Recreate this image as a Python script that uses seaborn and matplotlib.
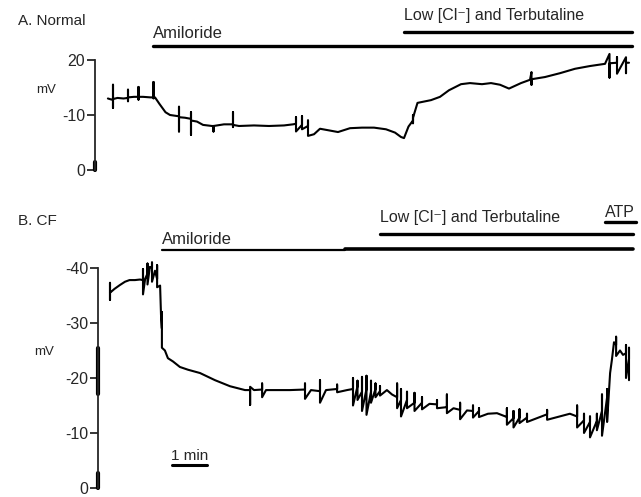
import matplotlib
matplotlib.use("Agg")
import matplotlib.pyplot as plt
import pandas as pd
import seaborn as sns

# ---- A. Normal: transepithelial potential trace (time in min, mV) ----
normal_t = [0.43, 0.55, 0.60, 0.60, 0.60, 0.60, 0.75, 0.95, 1.10, 1.10, 1.10, 1.10,
            1.30, 1.45, 1.45, 1.45, 1.45, 1.60, 1.85, 1.95, 1.95, 1.95, 2.00, 2.15,
            2.35, 2.50, 2.75, 2.80, 2.80, 2.80, 2.80, 3.00, 3.20, 3.20, 3.20, 3.20,
            3.40, 3.60, 3.90, 3.95, 3.95, 3.95, 4.30, 4.60, 4.60, 4.60, 4.60, 4.80,
            5.30, 5.80, 6.30, 6.60, 6.70, 6.70, 6.70, 6.90, 6.90, 6.90, 7.10, 7.10,
            7.10, 7.30, 7.50, 7.80, 8.10, 8.50, 8.90, 9.30, 9.70, 10.00, 10.20, 10.30,
            10.45, 10.60, 10.60, 10.60, 10.60, 10.75, 11.20, 11.50, 11.80, 12.20, 12.50, 12.90,
            13.20, 13.50, 13.80, 14.20, 14.50, 14.55, 14.55, 14.55, 15.00, 15.50, 16.00, 16.50,
            17.00, 17.15, 17.15, 17.15, 17.40, 17.40, 17.40, 17.70, 17.70, 17.70, 17.80]
normal_mv = [13.0, 12.8, 12.9, 15.5, 11.3, 12.9, 13.1, 13.0, 13.1, 14.6, 12.5, 13.2,
             13.3, 13.3, 15.1, 12.8, 13.3, 13.3, 13.2, 13.2, 16.0, 13.0, 13.2, 12.0,
             10.5, 10.0, 9.8, 9.8, 11.5, 7.0, 9.6, 9.5, 9.3, 10.5, 6.4, 9.0,
             8.8, 8.2, 8.0, 8.0, 7.0, 8.0, 8.3, 8.3, 10.5, 7.8, 8.2, 8.0,
             8.1, 8.0, 8.1, 8.3, 8.4, 9.6, 7.0, 8.2, 9.8, 7.4, 8.0, 9.0,
             6.2, 6.5, 7.5, 7.2, 6.9, 7.6, 7.7, 7.7, 7.4, 6.8, 6.0, 5.8,
             7.9, 9.0, 10.0, 8.5, 9.5, 12.2, 12.7, 13.3, 14.5, 15.6, 15.8, 15.6,
             15.8, 15.5, 14.8, 15.8, 16.4, 17.8, 15.5, 16.5, 16.9, 17.6, 18.4, 18.9,
             19.3, 21.1, 16.8, 19.4, 19.5, 20.5, 17.5, 20.5, 17.6, 19.5, 19.5]

# ---- B. CF trace ----
cf_t = [0.40, 0.40, 0.40, 0.40, 0.55, 0.73, 0.90, 1.05, 1.23, 1.40,
        1.50, 1.50, 1.50, 1.57, 1.65, 1.65, 1.65, 1.73, 1.80, 1.80, 1.80,
        1.90, 1.97, 1.97, 1.97, 2.07, 2.10, 2.13, 2.13, 2.13, 2.23, 2.33,
        2.50, 2.73, 3.00, 3.40, 3.90, 4.40, 4.90, 5.07, 5.07, 5.07,
        5.20, 5.47, 5.47, 5.47, 5.60, 6.07, 6.40, 6.90, 6.90, 6.90,
        7.10, 7.40, 7.40, 7.40, 7.60, 7.97, 7.97, 7.97, 8.30,
        8.50, 8.50, 8.50, 8.65, 8.65, 8.65, 8.80, 8.80, 8.80,
        8.95, 8.95, 8.95, 9.10, 9.10, 9.10, 9.25, 9.25, 9.25,
        9.40, 9.40, 9.40, 9.63, 9.80, 9.97, 9.97, 9.97,
        10.10, 10.10, 10.10, 10.30, 10.30, 10.30, 10.55, 10.55, 10.55,
        10.80, 10.80, 10.80, 11.05, 11.30, 11.30, 11.30,
        11.63, 11.63, 11.63, 11.85, 12.07, 12.07, 12.07, 12.30,
        12.50, 12.50, 12.50, 12.70, 12.70, 12.70, 13.00, 13.30,
        13.63, 13.63, 13.63, 13.85, 13.85, 13.85, 14.05, 14.05, 14.05,
        14.30, 14.30, 14.30, 14.97, 14.97, 14.97, 15.73,
        15.97, 15.97, 15.97, 16.20, 16.20, 16.20, 16.40, 16.40, 16.40,
        16.63, 16.63, 16.63, 16.80, 16.80, 16.80, 16.97, 16.97, 16.97,
        17.07, 17.13, 17.20, 17.27, 17.27, 17.27, 17.40, 17.50,
        17.60, 17.60, 17.60, 17.70, 17.70, 17.70]
cf_mv = [-35.5, -37.3, -34.2, -35.5, -36.2, -36.9, -37.5, -37.8, -37.8, -37.9,
         -37.8, -39.8, -35.2, -38.0, -39.0, -40.8, -37.0, -40.2, -40.0, -41.0, -37.5,
         -39.5, -38.0, -40.5, -36.5, -36.8, -31.5, -29.0, -32.0, -25.5, -25.0, -23.6,
         -23.0, -22.0, -21.5, -20.9, -19.6, -18.5, -17.8, -17.8, -15.1, -18.4,
         -17.8, -17.9, -19.0, -16.5, -17.8, -17.8, -17.8, -17.9, -19.0, -16.2,
         -17.8, -17.6, -19.6, -15.5, -17.8, -18.0, -18.8, -17.4, -17.8,
         -18.0, -20.0, -15.0, -18.5, -19.5, -16.0, -17.5, -20.2, -14.0,
         -18.0, -20.4, -13.3, -17.5, -19.5, -15.5, -18.0, -19.0, -16.5,
         -17.6, -18.5, -16.8, -17.8, -17.0, -16.5, -19.0, -14.5,
         -16.0, -18.0, -13.0, -16.0, -17.5, -14.5, -15.5, -17.3, -14.0,
         -15.5, -16.5, -14.3, -15.3, -15.2, -16.0, -14.5,
         -14.7, -17.0, -13.6, -14.5, -14.2, -15.5, -12.5, -14.1,
         -14.0, -15.0, -12.8, -14.0, -14.5, -12.9, -13.5, -13.6,
         -12.9, -14.5, -11.5, -12.7, -14.0, -11.0, -12.8, -14.3, -11.8,
         -12.8, -13.5, -12.0, -13.4, -14.2, -12.4, -13.5,
         -13.0, -15.0, -11.0, -12.3, -13.5, -10.0, -12.0, -13.0, -9.2,
         -12.2, -13.5, -10.5, -14.0, -17.0, -9.5, -16.5, -18.0, -12.0,
         -20.9, -23.3, -26.5, -26.0, -27.5, -24.0, -25.0, -24.2,
         -24.5, -26.0, -20.0, -23.5, -25.5, -19.6]

assert len(normal_t) == len(normal_mv)
assert len(cf_t) == len(cf_mv)

# axis ticks (the original labels are printed as is)
normal_ticks = [0, 10, 20]
normal_ticklabels = ["0", "-10", "20"]
cf_ticks = [0, -10, -20, -30, -40]
cf_ticklabels = ["0", "-10", "-20", "-30", "-40"]

# treatment periods (start, end) in min
normal_amiloride = [1.93, 17.9]
normal_low_cl = [10.3, 17.9]
cf_amiloride_thin = [2.13, 8.23]
cf_amiloride = [8.23, 17.83]
cf_low_cl = [9.4, 17.83]
cf_atp = [16.9, 17.93]
scale_bar = [2.47, 3.63]

# thick bits of trace sitting on the axis line
normal_axis_mark = [0.0, 1.5]
cf_axis_mark_mid = [-25.5, -17.0]
cf_axis_mark_low = [0.0, -2.7]

sns.set_style("ticks")
plt.rcParams["font.family"] = ["Liberation Sans", "DejaVu Sans"]

fig = plt.figure(figsize=(6.41, 4.97), dpi=100)
ax_a = fig.add_axes([95 / 641, 1 - 175 / 497, 546 / 641, 167 / 497])
ax_b = fig.add_axes([98 / 641, 0.0, 543 / 641, 297 / 497])

df_a = pd.DataFrame({"t": normal_t, "mV": normal_mv})
df_b = pd.DataFrame({"t": cf_t, "mV": cf_mv})

sns.lineplot(data=df_a, x="t", y="mV", sort=False, estimator=None,
             color="black", lw=1.5, ax=ax_a)
sns.lineplot(data=df_b, x="t", y="mV", sort=False, estimator=None,
             color="black", lw=1.5, ax=ax_b)

ax_a.set_xlim(0, 18.2)
ax_a.set_ylim(-0.91, 29.45)
ax_b.set_xlim(0, 18.1)
ax_b.set_ylim(1.64, -52.36)

for ax, ticks, labels in [(ax_a, normal_ticks, normal_ticklabels),
                          (ax_b, cf_ticks, cf_ticklabels)]:
    sns.despine(ax=ax, bottom=True)
    ax.set_xticks([])
    ax.set_xlabel("")
    ax.set_ylabel("")
    ax.set_yticks(ticks)
    ax.set_yticklabels(labels)
    ax.spines["left"].set_bounds(min(ticks), max(ticks))
    ax.spines["left"].set_linewidth(1.3)
    ax.tick_params(axis="y", direction="out", length=5.5, width=1.3,
                   pad=1.5, labelsize=11.5)
    ax.patch.set_alpha(0)

# axis marks
ax_a.plot([0, 0], normal_axis_mark, color="black", lw=3, clip_on=False)
ax_b.plot([0, 0], cf_axis_mark_mid, color="black", lw=3, clip_on=False)
ax_b.plot([0, 0], cf_axis_mark_low, color="black", lw=3, clip_on=False)

# panel A annotations
ax_a.plot(normal_amiloride, [22.5, 22.5], color="black", lw=2.4)
ax_a.plot(normal_low_cl, [25.1, 25.1], color="black", lw=2.4)
ax_a.text(normal_amiloride[0], 24.9, "Amiloride", fontsize=12, va="center")
ax_a.text(normal_low_cl[0], 28.0, "Low [Cl\u207b] and Terbutaline",
          fontsize=11.5, va="center")
ax_a.text(-1.63, 14.5, "mV", fontsize=9.5, ha="center", va="center")
fig.text(18 / 641, 1 - 21 / 497, "A. Normal", fontsize=11, va="center")

# panel B annotations
ax_b.plot(cf_amiloride_thin, [-43.3, -43.3], color="black", lw=1.6, clip_on=False)
ax_b.plot(cf_amiloride, [-43.5, -43.5], color="black", lw=2.6, clip_on=False)
ax_b.plot(cf_low_cl, [-46.2, -46.2], color="black", lw=2.4, clip_on=False)
ax_b.plot(cf_atp, [-48.4, -48.4], color="black", lw=2.4, clip_on=False)
ax_b.text(cf_amiloride_thin[0], -45.1, "Amiloride", fontsize=12, va="center")
ax_b.text(cf_low_cl[0], -49.1, "Low [Cl\u207b] and Terbutaline",
          fontsize=11.5, va="center")
ax_b.text(cf_atp[0], -50.0, "ATP", fontsize=11.5, va="center")
ax_b.text(-1.8, -24.7, "mV", fontsize=9.5, ha="center", va="center")
ax_b.plot(scale_bar, [-4.2, -4.2], color="black", lw=2.2)
ax_b.text(sum(scale_bar) / 2, -5.9, "1 min", fontsize=11, ha="center", va="center")
fig.text(18 / 641, 1 - 221 / 497, "B. CF", fontsize=11, va="center")

fig.savefig("out.png", dpi=100)
